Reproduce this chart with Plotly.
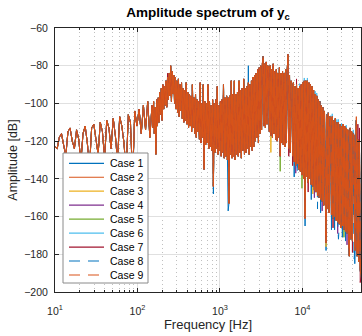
import numpy as np
import plotly.graph_objects as go

# ---- frequency sampling of the spectrum (x categories) ----
freq_low_hz = np.geomspace(10, 150, 45, endpoint=False)
freq_high_hz = np.geomspace(150, 51200, 270)
freq_hz = np.concatenate([freq_low_hz, freq_high_hz])

# ---- typical amplitude spectrum (dB) ----
amp_low_db = [
    -123, -124, -118, -116, -122, -128, -115, -113, -120, -124,
    -114, -119, -131, -116, -112, -121, -134, -113, -111, -118,
    -127, -110, -115, -129, -109, -113, -124, -108, -117, -131,
    -107, -112, -121, -137, -106, -110, -140, -104, -112, -103,
    -116, -101, -114, -99, -118,
]
amp_high_db = [
    -101, -113, -99, -116, -102, -127, -98, -112, -97, -110,
    -94, -106, -92, -109, -90, -103, -91, -101, -88, -102,
    -86, -98, -84, -96, -80, -99, -83, -95, -85, -100,
    -86, -103, -88, -105, -87, -107, -90, -104, -89, -108,
    -92, -110, -93, -109, -89, -111, -94, -113, -95, -112,
    -96, -115, -90, -113, -97, -116, -95, -118, -98, -115,
    -99, -119, -89, -121, -100, -118, -90, -135, -99, -122,
    -100, -121, -90, -124, -99, -123, -101, -125, -98, -144,
    -100, -126, -98, -124, -91, -127, -101, -125, -99, -128,
    -98, -126, -90, -129, -97, -128, -96, -130, -97, -153,
    -96, -127, -88, -129, -95, -128, -88, -130, -95, -127,
    -94, -128, -88, -126, -93, -129, -92, -125, -87, -127,
    -92, -126, -91, -124, -89, -127, -90, -123, -88, -125,
    -86, -123, -85, -120, -84, -118, -82, -121, -81, -116,
    -80, -114, -79, -75, -112, -79, -113, -78, -111, -80,
    -81, -115, -80, -117, -82, -118, -79, -116, -83, -119,
    -82, -120, -84, -118, -81, -128, -84, -121, -83, -122,
    -84, -123, -82, -121, -83, -74, -124, -85, -126, -88,
    -90, -128, -89, -131, -91, -133, -90, -132, -92, -135,
    -91, -136, -90, -138, -89, -140, -88, -161, -88, -139,
    -88, -142, -89, -140, -90, -143, -91, -144, -93, -146,
    -95, -147, -96, -149, -98, -150, -99, -151, -101, -152,
    -102, -154, -104, -155, -174, -106, -156, -105, -158, -107,
    -108, -159, -107, -161, -109, -160, -108, -162, -110, -163,
    -110, -164, -111, -166, -112, -165, -111, -167, -112, -168,
    -113, -169, -114, -171, -181, -113, -172, -115, -173, -116,
    -117, -178, -118, -109, -181, -119, -184, -120, -188, -192,
]
base_db = amp_low_db + amp_high_db

# ---- per-case values that differ from the common spectrum {sample: dB} ----
spikes_case1 = {124: -148, 143: -157, 169: -80, 242: -165, 269: -178, 276: -167, 298: -176,
                306: -185, 36: -143, 228: -139, 250: -151, 262: -158, 280: -167, 290: -171}
spikes_case2 = {308: -107, 188: -76}
spikes_case3 = {198: -126, 269: -176, 252: -148}
spikes_case4 = {284: -169, 254: -150, 230: -137, 264: -157, 296: -175}
spikes_case5 = {238: -145, 210: -136, 292: -171}
spikes_case6 = {235: -89.5, 241: -86.5, 245: -86.5, 255: -93.5, 257: -94.5, 275: -106.5,
                289: -110.5, 295: -111.5, 268: -163, 277: -105.5, 283: -108.5, 285: -108.5, 304: -114}
spikes_case7 = {310: -111, 312: -113, 221: -128, 313: -195, 65: -84, 226: -133, 246: -147,
                278: -166, 303: -179, 231: -87, 307: -112}
spikes_case8 = {285: -172, 305: -183, 232: -137, 258: -156, 294: -174}
spikes_case9 = {}

case_names = ["Case 1", "Case 2", "Case 3", "Case 4", "Case 5", "Case 6", "Case 7", "Case 8", "Case 9"]
case_spikes = [spikes_case1, spikes_case2, spikes_case3, spikes_case4, spikes_case5,
               spikes_case6, spikes_case7, spikes_case8, spikes_case9]
case_colors = ["#0072BD", "#D95319", "#EDB120", "#7E2F8E", "#77AC30",
               "#4DBEEE", "#A2142F", "#0072BD", "#D95319"]
case_dashes = ["solid"] * 7 + ["11px,8px", "11px,8px"]
draw_order = [0, 2, 3, 4, 5, 6, 7, 1, 8]

x_tick_vals = [10, 100, 1000, 10000]
x_tick_text = ["10<sup>1</sup>", "10<sup>2</sup>", "10<sup>3</sup>", "10<sup>4</sup>"]
x_minor_vals = [m * d for d in [10, 100, 1000, 10000] for m in range(2, 10) if m * d <= 51200]

FONT = "Arial, Liberation Sans, Helvetica, sans-serif"
AX = "#262626"

fig = go.Figure()
for k in draw_order:
    y = list(base_db)
    for idx, v in case_spikes[k].items():
        y[idx] = v
    fig.add_trace(go.Scatter(x=freq_hz, y=y, mode="lines", name=case_names[k],
                             line=dict(color=case_colors[k], width=1, dash=case_dashes[k]),
                             showlegend=False))

# ---- legend drawn as a MATLAB-style box ----
W, H, L, T = 362, 336, 55, 28
PW, PH = W - L - 1, H - T - 44
def px(xp):
    return (xp - L) / PW
def py(yp):
    return (T + PH - yp) / PH

shapes = [dict(type="rect", xref="paper", yref="paper", x0=px(63), x1=px(148),
               y0=py(283), y1=py(153), fillcolor="white", line=dict(color="#8a8a8a", width=1))]
annotations = []
for k, (name, color, dash) in enumerate(zip(case_names, case_colors, case_dashes)):
    yc = 163.3 + k * 13.96
    shapes.append(dict(type="line", xref="paper", yref="paper", x0=px(69), x1=px(104),
                       y0=py(yc), y1=py(yc), line=dict(color=color, width=1.2, dash=dash)))
    annotations.append(dict(xref="paper", yref="paper", x=px(108), y=py(yc), text=name,
                            showarrow=False, xanchor="left", yanchor="middle",
                            font=dict(family=FONT, size=10.5, color="#000000")))

fig.update_layout(
    width=W, height=H,
    margin=dict(l=L, r=1, t=T, b=44),
    paper_bgcolor="white", plot_bgcolor="white",
    font=dict(family=FONT, size=10.5, color=AX),
    title=dict(text="<b>Amplitude spectrum of y<sub>c</sub></b>", x=0.5, xref="paper",
               y=1 - 12.5 / H, yref="container", xanchor="center", yanchor="middle",
               font=dict(family=FONT, size=13.5, color="#000000")),
    shapes=shapes, annotations=annotations,
    showlegend=False,
)
fig.update_xaxes(
    type="log", range=[1, np.log10(51200)],
    tickmode="array", tickvals=x_tick_vals, ticktext=x_tick_text,
    ticks="inside", ticklen=4, tickcolor=AX, tickwidth=1, ticklabelstandoff=9,
    showline=True, linecolor=AX, linewidth=1, mirror="allticks",
    showgrid=True, gridcolor="#e0e0e0", gridwidth=1,
    minor=dict(tickmode="array", tickvals=x_minor_vals, ticks="inside", ticklen=2,
               tickcolor=AX, showgrid=True, gridcolor="#c0c0c0", griddash="1px,3px", gridwidth=1),
    title=dict(text="Frequency [Hz]", font=dict(family=FONT, size=13, color=AX), standoff=4),
    tickfont=dict(family=FONT, size=10.5, color=AX),
)
fig.update_yaxes(
    range=[-200, -60], dtick=20, tick0=-200,
    ticks="inside", ticklen=4, tickcolor=AX, tickwidth=1, ticklabelstandoff=4,
    showline=True, linecolor=AX, linewidth=1, mirror="allticks",
    showgrid=True, gridcolor="#e0e0e0", gridwidth=1, zeroline=False,
    title=dict(text="Amplitude [dB]", font=dict(family=FONT, size=12.5, color=AX), standoff=3),
    tickfont=dict(family=FONT, size=10.5, color=AX),
)

fig.write_html("out.html")
